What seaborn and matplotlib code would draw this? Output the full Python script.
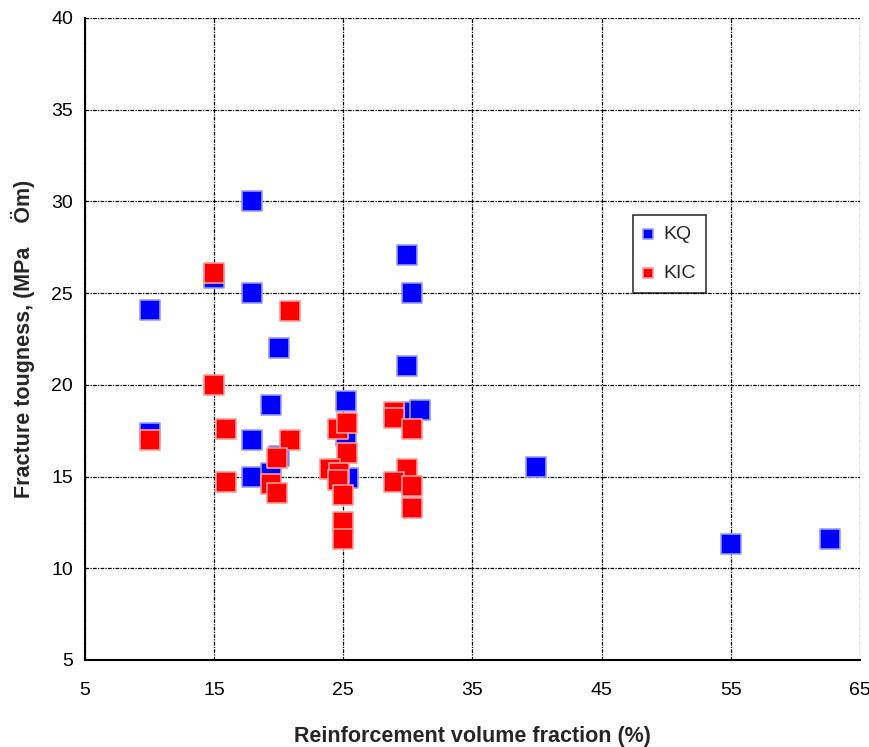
import matplotlib
matplotlib.use("Agg")
import matplotlib.pyplot as plt
import seaborn as sns
import pandas as pd

# KQ series (blue)
kq_x = [10, 10, 15, 17.9, 17.9, 17.9, 17.9, 20, 19.4, 19.4, 20, 25.2, 25.2, 25.4,
        29.9, 30.3, 29.9, 30.3, 30.9, 39.9, 55, 62.7]
kq_y = [24.1, 17.4, 25.8, 30, 25, 17, 15.0, 22, 18.9, 15.2, 16.1, 19.1, 17.2, 14.9,
        27.1, 25, 21, 18.5, 18.6, 15.5, 11.3, 11.6]

# KIC series (red)
kic_x = [10, 15, 15, 15.9, 15.9, 20.9, 19.9, 19.4, 19.9, 20.9, 24.6, 25.3, 25.3,
         24.0, 24.7, 24.6, 25.0, 25.0, 25.0, 28.9, 28.9, 30.3, 29.9, 28.9, 30.3, 30.3]
kic_y = [17, 26.1, 20, 17.6, 14.7, 17, 16.0, 14.6, 14.1, 24, 17.6, 17.9, 16.3,
         15.4, 15.2, 14.8, 14.0, 12.5, 11.6, 18.5, 18.2, 17.6, 15.4, 14.7, 14.5, 13.3]

x_ticks = [5, 15, 25, 35, 45, 55, 65]
y_ticks = [5, 10, 15, 20, 25, 30, 35, 40]

df = pd.concat([
    pd.DataFrame({"x": kq_x, "y": kq_y, "serie": "KQ"}),
    pd.DataFrame({"x": kic_x, "y": kic_y, "serie": "KIC"}),
])

sns.set_style("white")
plt.rcParams['font.family'] = ['Liberation Sans', 'DejaVu Sans']

fig = plt.figure(figsize=(8.7, 7.47), dpi=100)
ax = fig.add_axes([0.0977, 0.1165, 0.8908, 0.8595])

for serie, color, edge in [("KQ", "#0000ff", "#9a9aff"), ("KIC", "#ff0000", "#ff9a9a")]:
    d = df[df["serie"] == serie]
    sns.scatterplot(data=d, x="x", y="y", ax=ax, marker="s", s=200,
                    color=color, edgecolor=edge, linewidth=1.2, label=serie, zorder=3)

ax.set_xlim(5, 65)
ax.set_ylim(5, 40)
ax.set_xticks(x_ticks)
ax.set_yticks(y_ticks)
ax.grid(True, color="black", linestyle=(0, (3, 1, 1, 1)), linewidth=0.9)
ax.set_axisbelow(True)
for s in ["top", "right"]:
    ax.spines[s].set_visible(False)
for s in ["left", "bottom"]:
    ax.spines[s].set_color("black")
    ax.spines[s].set_linewidth(1.5)
ax.tick_params(direction="inout", length=7, width=1, colors="black", labelsize=14)
ax.tick_params(axis="x", pad=12)
ax.tick_params(axis="y", pad=5)

ax.set_xlabel("Reinforcement volume fraction (%)", fontsize=15.5, fontweight="bold", labelpad=20)
ax.set_ylabel("Fracture tougness, (MPa    Öm)", fontsize=15.5, fontweight="bold", labelpad=12)

leg = ax.legend(loc="upper left", bbox_to_anchor=(0.707, 0.693), frameon=True, fancybox=False,
                fontsize=14, markerscale=0.55, handletextpad=0.6, borderpad=0.55,
                labelspacing=1.1, handlelength=0.4, borderaxespad=0)
leg.get_frame().set_edgecolor("black")
leg.get_frame().set_linewidth(1.2)

plt.savefig("out.png", dpi=100)
